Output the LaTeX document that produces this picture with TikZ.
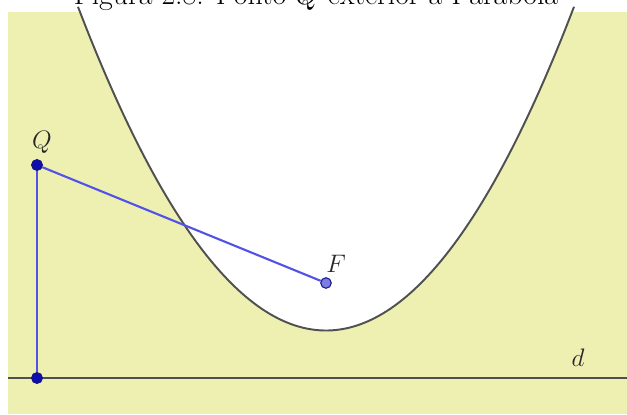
\documentclass[tikz,border=0pt]{standalone}
\usepackage{amsmath}
\usepackage{xcolor}
\usepackage{tikz}
\usetikzlibrary{positioning}

\definecolor{ggbyellow}{RGB}{237,240,177}
\definecolor{ggbblue}{RGB}{82,82,232}
\definecolor{ggbdark}{RGB}{20,20,140}
\definecolor{ggbfocus}{RGB}{125,125,225}
\definecolor{ggbgray}{RGB}{80,80,80}

\begin{document}
\begin{tikzpicture}[
    x=0.02cm, y=-0.02cm,
    seg/.style={ggbblue, line width=1.2pt},
    curve/.style={ggbgray, line width=1.1pt},
    pt/.style={circle, draw=ggbdark, fill=ggbdark!70!blue, inner sep=0pt, minimum size=6pt, line width=0.6pt},
    ptfoc/.style={pt, fill=ggbfocus},
    lbl/.style={font=\Large, text=black!85}
  ]
    \useasboundingbox (0,0) rectangle (627,414);
    % region outside the parabola
    \fill[ggbyellow] (8,12) rectangle (627,414);
    \fill[white] plot[domain=78:574, samples=120] (\x, {330.5-((\x-326)/10)^2/1.9}) -- cycle;
    \draw[curve] plot[domain=78:574, samples=120] (\x, {330.5-((\x-326)/10)^2/1.9});

    \node[anchor=base, font=\fontsize{17}{20}\selectfont] (title) at (316,4.5)
      {Figura 2.8: Ponto $Q$ exterior \`a Par\'abola};

    \coordinate (dl) at (8,378);
    \coordinate (dr) at (627,378);
    \draw[ggbgray, line width=1.1pt] (dl) -- (dr);

    \node[pt] (Q) at (37,165) {};
    \node[pt] (P) at (37,378) {};
    \node[ptfoc] (F) at (326,283) {};

    \draw[seg] (Q) -- (F);
    \draw[seg] (Q) -- (P);
    \node[pt] at (Q) {};
    \node[pt] at (P) {};

    \node[lbl] (Qlbl) at (42,142) {$Q$};
    \node[lbl] (Flbl) at (336,264) {$F$};
    \node[lbl] (dlbl) at (578,358) {$d$};
  \end{tikzpicture}
\end{document}
